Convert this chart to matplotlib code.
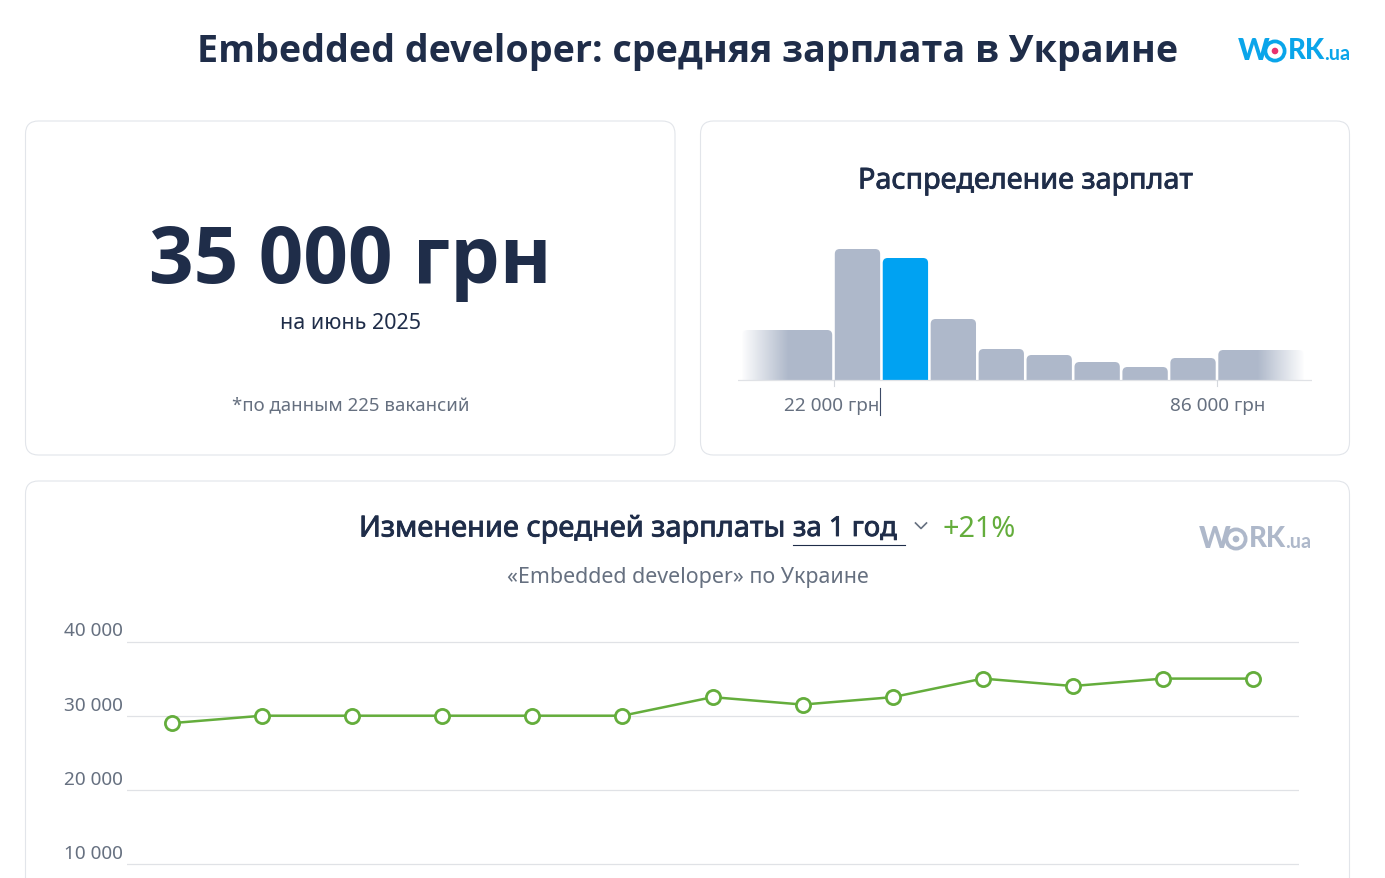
#!/usr/bin/env python
import numpy as np
import matplotlib
matplotlib.use("Agg")
import matplotlib.pyplot as plt
import matplotlib.patheffects as pe
from matplotlib.patches import FancyBboxPatch, PathPatch, Circle
from matplotlib.path import Path

plt.rcParams['font.family'] = ['Noto Sans', 'DejaVu Sans']

bin_edges = [6560, 22000, 30000, 38000, 46000, 54000, 62000, 70000, 78000, 86000, 100700]
bin_heights = [50, 131, 122, 61, 31, 25, 18, 13, 22, 30]
active_bin = 2
hist_ticks = [22000, 86000]
hist_ticklabels = ["22 000 грн", "86 000 грн"]

# salary by month
months = list(range(13))
salary = [29000, 30000, 30000, 30000, 30000, 30000, 32500, 31500, 32500, 35000, 34000, 35000, 35000]
y_ticks = [10000, 20000, 30000, 40000]
y_ticklabels = ["10 000", "20 000", "30 000", "40 000"]

W, H = 1385, 879
DARK = "#1f2d49"
GREY = "#667080"
BAR = "#aeb8ca"
BLUE = "#00a2f2"
GREEN = "#64ad3c"
GRID = "#e0e2e6"
BORDER = "#e2e5ea"

fig = plt.figure(figsize=(W / 100, H / 100), dpi=100, facecolor="white")


def axes_px(x0, y0, x1, y1, **kw):
    # axes from pixel box, y going down
    return fig.add_axes([x0 / W, 1 - y1 / H, (x1 - x0) / W, (y1 - y0) / H], **kw)


bg = axes_px(0, 0, W, H)
bg.set_xlim(0, W)
bg.set_ylim(H, 0)
bg.axis("off")


def card(x0, y0, x1, y1):
    bg.add_patch(FancyBboxPatch((x0, y0), x1 - x0, y1 - y0, boxstyle="round,pad=0,rounding_size=13",
                                fc="white", ec=BORDER, lw=0.8))


card(25.5, 122, 675, 456)
card(700.5, 122, 1349.5, 456)
card(25.5, 482, 1349.5, 960)


def txt(x, y, s, size, color=DARK, weight="normal", ha="center", bold=0, **kw):
    t = bg.text(x, y, s, fontsize=size * 0.72, color=color, fontweight=weight, ha=ha, va="center",
                family=kw.pop("family", ['Noto Sans', 'DejaVu Sans']), **kw)
    # the font has no heavy cut here, so fatten it with a stroke
    if bold:
        t.set_path_effects([pe.withStroke(linewidth=bold, foreground=color)])
    return t


txt(688, 52, "Embedded developer: средняя зарплата в Украине", 37.58, weight="bold", family=["Open Sans", "DejaVu Sans"])
txt(350.5, 263, "35 000 грн", 78.3, weight="bold", family=["Open Sans", "DejaVu Sans"])
txt(350, 324, "на июнь 2025", 21.4)
txt(351, 405, "*по данным 225 вакансий", 18.6, color=GREY)
txt(1025.5, 182, "Распределение зарплат", 28.8, bold=0.6)

txt(359, 530, "Изменение средней зарплаты", 29, bold=0.6, ha="left")
txt(793, 530, "за 1 год", 27.5, bold=0.6, ha="left")
bg.plot([793, 905], [545.5, 545.5], color=DARK, lw=0.8)
bg.plot([915.5, 921, 926.5], [524, 529.5, 524], color=GREY, lw=1.2)
txt(943, 530, "+21%", 28.8, color=GREEN, ha="left")
txt(688, 578, "«Embedded developer» по Украине", 21.4, color=GREY)


def logo(x, y, color, dot, size):
    # WORK.ua wordmark, the O gets a dot on top
    k = size / 30.0
    f = ["Lato", "DejaVu Sans"]
    txt(x, y, "W", size, color=color, weight="black", ha="left", family=f)
    txt(x + 50 * k, y, "RK", size * 0.92, color=color, weight="black", ha="left", family=f)
    txt(x + 86 * k, y + 3 * k, ".ua", size * 0.66, color=color, weight="bold", ha="left", family=f)
    bg.add_patch(Circle((x + 37 * k, y + 1 * k), 9.6 * k, fc="white", ec=color, lw=2.7 * k))
    bg.add_patch(Circle((x + 37 * k, y + 1 * k), 3.3 * k, fc=dot, ec="none"))


logo(1238, 51, "#0aa5ea", "#e8316f", 30)
logo(1199, 539, "#aeb8ca", "#aeb8ca", 30)

# histogram, y unit is one pixel so the corners stay round
hx = axes_px(738, 231, 1312, 393)
px_x = (86000 - 22000) / (1217 - 833.5)
x_lim = (22000 - (833.5 - 738) * px_x, 86000 + (1312 - 1217) * px_x)
hx.axis("off")


def round_bar(ax, x0, x1, h, color, r=5):
    rx = r * px_x
    verts = [(x0, 0), (x0, h - r), (x0, h), (x0 + rx, h), (x1 - rx, h), (x1, h), (x1, h - r), (x1, 0), (x0, 0)]
    codes = [Path.MOVETO, Path.LINETO, Path.CURVE3, Path.CURVE3, Path.LINETO, Path.CURVE3, Path.CURVE3,
             Path.LINETO, Path.CLOSEPOLY]
    ax.add_patch(PathPatch(Path(verts, codes), fc=color, ec="none", zorder=2))


gap = 1.3 * px_x
for i, h in enumerate(bin_heights):
    round_bar(hx, bin_edges[i] + gap, bin_edges[i + 1] - gap, h, BLUE if i == active_bin else BAR)

# fade on both outer bars
fade = np.zeros((1, 64, 4))
fade[..., :3] = 1
fade[..., 3] = np.linspace(1, 0, 64)
top = max(bin_heights[0], bin_heights[-1]) + 1
hx.imshow(fade, extent=(bin_edges[0], bin_edges[0] + 48 * px_x, 0, top), aspect="auto", zorder=3)
hx.imshow(fade[:, ::-1], extent=(bin_edges[-1] - 48 * px_x, bin_edges[-1], 0, top), aspect="auto", zorder=3)
hx.set_xlim(*x_lim)
hx.set_ylim(-12, 150)

hx.axhline(0, color=GRID, lw=0.9, zorder=4)
for t in hist_ticks:
    hx.plot([t, t], [0, -6], color="#d5d8dd", lw=0.8, zorder=4)
for t, lab in zip(hist_ticks, hist_ticklabels):
    txt(832 if t == hist_ticks[0] else 1217.5, 406, lab, 19, color=GREY)
bg.plot([879.5, 879.5], [389, 416], color="#3c4a66", lw=0.8)

# line chart, runs off the bottom of the picture
ax = axes_px(127, 612, 1299, H)
ax.patch.set_alpha(0)
ax.set_xlim(-0.5, 12.51)
ax.set_ylim(40000 - (H - 642.5) / 74.2 * 10000, 40000 + 30.5 / 74.2 * 10000)
for s in ax.spines.values():
    s.set_visible(False)
ax.set_xticks([])
ax.set_yticks(y_ticks)
ax.set_yticklabels([])
ax.tick_params(left=False)
ax.grid(axis="y", color=GRID, lw=0.9)
ax.set_axisbelow(True)
ax.plot(months, salary, color=GREEN, lw=1.8, marker="o", ms=10.2, mfc="white", mec=GREEN, mew=2, clip_on=False)
for v, lab in zip(y_ticks, y_ticklabels):
    ypx = 642.5 + (40000 - v) / 10000 * 74.2
    txt(123, ypx - 11, lab, 19, color=GREY, ha="right")

fig.savefig("out.png", dpi=100)
